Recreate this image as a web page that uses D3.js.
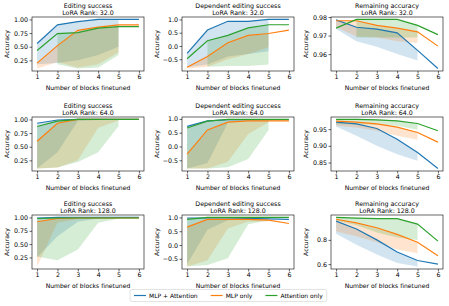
<!DOCTYPE html>
<html>
<head>
<meta charset="utf-8">
<script src="https://cdn.jsdelivr.net/npm/d3@7"></script>
<style>
  body { margin: 0; background: #fff; }
  svg { font-family: "DejaVu Sans", sans-serif; }
</style>
</head>
<body>
<div id="chart"></div>
<script>
// x values and series names
const blocks = [1, 2, 3, 4, 5, 6]
const methods = ['MLP + Attention', 'MLP only', 'Attention only']
const ranks = ['32.0', '64.0', '128.0']
const metrics = ['Editing success', 'Dependent editing success', 'Remaining accuracy']

// lines: [MLP + Attention, MLP only, Attention only], x = 1..6
// lows: lower edge of the shaded range, x = 1..5 (upper edge is the line)
const edit32 = [
  [0.56, 0.90, 0.96, 1.00, 1.00, 1.00],
  [0.20, 0.52, 0.80, 0.86, 0.90, 0.90],
  [0.43, 0.74, 0.76, 0.84, 0.87, 0.87]
]
const edit32Low = [
  [0.18, 0.20, 0.25, 0.35, 0.50],
  [0.10, 0.22, 0.12, 0.18, 0.40],
  [null, 0.18, 0.10, 0.12, 0.35]
]
const dep32 = [
  [-0.28, 0.60, 0.93, 0.93, 1.00, 1.00],
  [-0.80, -0.40, 0.12, 0.40, 0.47, 0.60],
  [-0.48, 0.20, 0.40, 0.68, 0.80, 0.80]
]
const dep32Low = [
  [-0.80, -0.70, -0.40, -0.30, -0.20],
  [-0.85, -0.78, -0.50, -0.30, -0.05],
  [null, -0.78, -0.75, -0.75, -0.70]
]
const rem32 = [
  [0.9785, 0.9745, 0.9735, 0.9715, 0.9620, 0.9522],
  [0.9780, 0.9780, 0.9755, 0.9740, 0.9720, 0.9643],
  [0.9740, 0.9787, 0.9787, 0.9787, 0.9755, 0.9705]
]
const rem32Low = [
  [0.9735, 0.9670, 0.9640, 0.9600, 0.9565],
  [0.9745, 0.9695, 0.9690, 0.9670, 0.9660],
  [null, 0.9690, 0.9690, 0.9690, 0.9690]
]
const edit64 = [
  [0.93, 0.99, 1.00, 1.00, 1.00, 1.00],
  [0.60, 0.93, 1.00, 1.00, 1.00, 1.00],
  [0.87, 0.97, 1.00, 1.00, 1.00, 1.00]
]
const edit64Low = [
  [0.10, 0.40, 0.97, 0.99, 1.00],
  [0.10, 0.12, 0.25, 0.85, 0.98],
  [0.10, 0.12, 0.22, 0.40, 0.88]
]
const dep64 = [
  [0.73, 0.93, 0.97, 0.97, 0.97, 0.97],
  [-0.28, 0.60, 0.88, 0.93, 0.93, 0.93],
  [0.67, 0.92, 0.98, 0.98, 0.98, 0.98]
]
const dep64Low = [
  [-0.80, -0.60, 0.85, 0.93, 0.95],
  [-0.80, -0.80, -0.55, 0.45, 0.88],
  [-0.80, -0.80, -0.75, -0.45, 0.60]
]
const rem64 = [
  [0.971, 0.966, 0.952, 0.920, 0.880, 0.832],
  [0.974, 0.971, 0.966, 0.956, 0.940, 0.911],
  [0.979, 0.979, 0.978, 0.975, 0.967, 0.945]
]
const rem64Low = [
  [0.958, 0.930, 0.900, 0.875, 0.855],
  [0.960, 0.955, 0.945, 0.930, 0.918],
  [0.965, 0.965, 0.963, 0.960, 0.948]
]
const edit128 = [
  [0.99, 1.00, 1.00, 1.00, 1.00, 1.00],
  [0.92, 0.98, 0.99, 0.99, 0.99, 0.99],
  [0.98, 0.99, 0.99, 0.99, 0.99, 0.99]
]
const edit128Low = [
  [0.25, 0.65, 0.92, 0.98, 0.99],
  [0.08, 0.90, 0.97, 0.98, 0.98],
  [0.27, 0.20, 0.40, 0.90, 0.98]
]
const dep128 = [
  [0.98, 0.98, 0.98, 0.97, 0.95, 0.93],
  [0.65, 0.93, 0.93, 0.93, 0.90, 0.78],
  [0.93, 1.00, 1.00, 1.00, 1.00, 1.00]
]
const dep128Low = [
  [-0.70, 0.55, 0.90, 0.93, 0.93],
  [-0.78, -0.55, 0.60, 0.85, 0.85],
  [-0.78, -0.72, -0.48, 0.75, 0.90]
]
const rem128 = [
  [0.955, 0.890, 0.800, 0.700, 0.630, 0.600],
  [0.970, 0.940, 0.900, 0.845, 0.780, 0.670],
  [0.985, 0.980, 0.975, 0.975, 0.930, 0.790]
]
const rem128Low = [
  [0.850, 0.760, 0.680, 0.610, 0.580],
  [0.870, 0.830, 0.780, 0.720, 0.690],
  [0.960, 0.920, 0.860, 0.820, 0.800]
]

// y tick labels
const editTicks = [0.25, 0.5, 0.75, 1.0]
const depTicks = [-0.5, 0.0, 0.5, 1.0]
const rem32Ticks = [0.96, 0.97, 0.98]
const rem64Ticks = [0.85, 0.90, 0.95]
const rem128Ticks = [0.6, 0.8]

const colors = ['#1f77b4', '#ff7f0e', '#2ca02c']

const panels = [
  {metric: 0, rank: 0, lines: edit32, lows: edit32Low, ticks: editTicks, fmt: '.2f'},
  {metric: 1, rank: 0, lines: dep32, lows: dep32Low, ticks: depTicks, fmt: '.1f'},
  {metric: 2, rank: 0, lines: rem32, lows: rem32Low, ticks: rem32Ticks, fmt: '.2f'},
  {metric: 0, rank: 1, lines: edit64, lows: edit64Low, ticks: editTicks, fmt: '.2f'},
  {metric: 1, rank: 1, lines: dep64, lows: dep64Low, ticks: depTicks, fmt: '.1f'},
  {metric: 2, rank: 1, lines: rem64, lows: rem64Low, ticks: rem64Ticks, fmt: '.2f'},
  {metric: 0, rank: 2, lines: edit128, lows: edit128Low, ticks: editTicks, fmt: '.2f'},
  {metric: 1, rank: 2, lines: dep128, lows: dep128Low, ticks: depTicks, fmt: '.1f'},
  {metric: 2, rank: 2, lines: rem128, lows: rem128Low, ticks: rem128Ticks, fmt: '.1f'}
]

const WIDTH = 449
const HEIGHT = 306
const colLeft = [32, 182, 331]
const rowTop = [17, 117, 215]
const plotW = 112
const plotH = 54

const svg = d3.select('#chart')
  .append('svg')
  .attr('width', WIDTH)
  .attr('height', HEIGHT)

panels.forEach((p, i) => {
  const col = i % 3
  const row = Math.floor(i / 3)
  const g = svg.append('g')
    .attr('transform', 'translate(' + colLeft[col] + ',' + rowTop[row] + ')')

  const x = d3.scaleLinear().domain([0.75, 6.25]).range([0, plotW])
  const all = p.lines.flat().concat(p.lows.flat()).filter((v) => v != null)
  const [lo, hi] = d3.extent(all)
  const pad = (hi - lo) * 0.05
  const y = d3.scaleLinear().domain([lo - pad, hi + pad]).range([plotH, 0])

  // shaded ranges
  p.lows.forEach((low, s) => {
    const pts = low.map((v, k) => ({x: blocks[k], lo: v, hi: p.lines[s][k]}))
    const area = d3.area()
      .defined((d) => d.lo != null)
      .x((d) => x(d.x))
      .y0((d) => y(d.lo))
      .y1((d) => y(d.hi))
    g.append('path')
      .attr('d', area(pts))
      .attr('fill', colors[s])
      .attr('fill-opacity', 0.2)
  })

  // lines
  p.lines.forEach((vals, s) => {
    const line = d3.line()
      .x((d, k) => x(blocks[k]))
      .y((d) => y(d))
    g.append('path')
      .attr('d', line(vals))
      .attr('fill', 'none')
      .attr('stroke', colors[s])
      .attr('stroke-width', 1.2)
  })

  // axes
  const xAxis = g.append('g')
    .attr('transform', 'translate(0,' + plotH + ')')
    .call(d3.axisBottom(x).tickValues(blocks).tickFormat(d3.format('d')).tickSize(2.5).tickPadding(1.5))
  const yAxis = g.append('g')
    .call(d3.axisLeft(y).tickValues(p.ticks).tickFormat(d3.format(p.fmt)).tickSize(2.5).tickPadding(1.5))
  ;[xAxis, yAxis].forEach((a) => {
    a.select('.domain').remove()
    a.selectAll('line').attr('stroke', '#000').attr('stroke-width', 0.6)
    a.selectAll('text').attr('font-size', 6.3).attr('fill', '#000').attr('font-family', 'DejaVu Sans')
  })

  g.append('rect')
    .attr('width', plotW)
    .attr('height', plotH)
    .attr('fill', 'none')
    .attr('stroke', '#000')
    .attr('stroke-width', 0.6)

  // titles and labels
  g.append('text')
    .attr('x', plotW / 2)
    .attr('y', -9)
    .attr('text-anchor', 'middle')
    .attr('font-size', 6.3)
    .text(metrics[p.metric])
  g.append('text')
    .attr('x', plotW / 2)
    .attr('y', -2.2)
    .attr('text-anchor', 'middle')
    .attr('font-size', 6.3)
    .text('LoRA Rank: ' + ranks[p.rank])
  g.append('text')
    .attr('x', plotW / 2)
    .attr('y', plotH + 18.5)
    .attr('text-anchor', 'middle')
    .attr('font-size', 6.1)
    .text('Number of blocks finetuned')
  g.append('text')
    .attr('transform', 'translate(-23,' + (plotH / 2) + ') rotate(-90)')
    .attr('text-anchor', 'middle')
    .attr('font-size', 6.1)
    .text('Accuracy')
})

// legend
const legend = svg.append('g').attr('transform', 'translate(130,289.5)')
const box = legend.append('rect')
  .attr('height', 12)
  .attr('rx', 2)
  .attr('fill', '#fff')
  .attr('stroke', '#d0d0d0')
  .attr('stroke-width', 0.6)
let cx = 4
methods.forEach((m, s) => {
  legend.append('line')
    .attr('x1', cx).attr('x2', cx + 12)
    .attr('y1', 6).attr('y2', 6)
    .attr('stroke', colors[s])
    .attr('stroke-width', 1.2)
  const t = legend.append('text')
    .attr('x', cx + 15)
    .attr('y', 8.2)
    .attr('font-size', 6)
    .text(m)
  cx += 15 + t.node().getComputedTextLength() + 13
})
box.attr('width', cx - 9)
</script>
</body>
</html>
